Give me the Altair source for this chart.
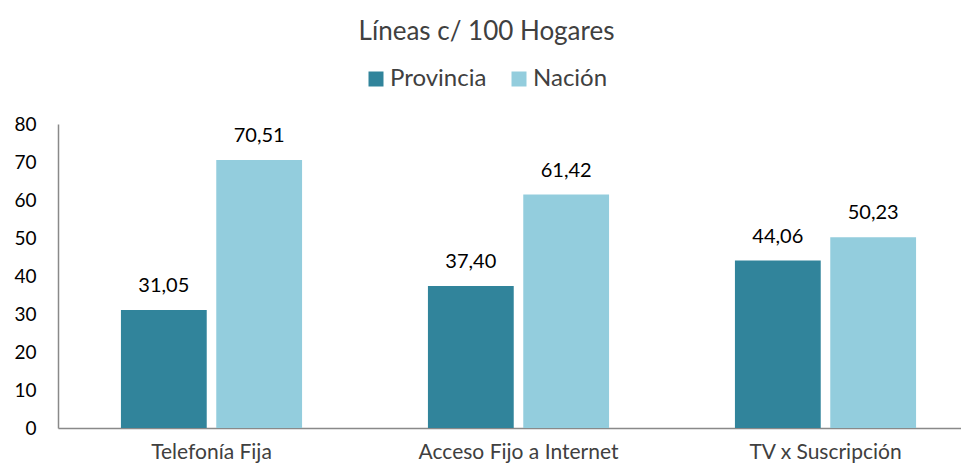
import altair as alt
import pandas as pd

categories = ["Telefonía Fija", "Acceso Fijo a Internet", "TV x Suscripción"]
series = ["Provincia", "Nación"]
provincia = [31.05, 37.40, 44.06]
nacion = [70.51, 61.42, 50.23]
colors = ["#31849B", "#93CDDD"]

rows = []
for c, p, n in zip(categories, provincia, nacion):
    rows.append({"Categoria": c, "Serie": "Provincia", "Valor": p})
    rows.append({"Categoria": c, "Serie": "Nación", "Valor": n})
df = pd.DataFrame(rows)

FONT = "Lato"

base = alt.Chart(df).transform_calculate(
    label="replace(format(datum.Valor, '.2f'), '.', ',')"
).encode(
    x=alt.X(
        "Categoria:N",
        sort=categories,
        title=None,
        scale=alt.Scale(range=[0, 921], paddingInner=0.41, paddingOuter=0.205),
        axis=alt.Axis(
            labelAngle=0, ticks=False, domainColor="#898989", domainWidth=1.5,
            labelFont=FONT, labelFontSize=21, labelColor="#404040", labelPadding=13,
            labelLimit=400, grid=False,
        ),
    ),
    xOffset=alt.XOffset("Serie:N", sort=series, scale=alt.Scale(paddingInner=0.1)),
    y=alt.Y(
        "Valor:Q",
        title=None,
        scale=alt.Scale(domain=[0, 80]),
        axis=alt.Axis(
            values=[0, 10, 20, 30, 40, 50, 60, 70, 80], ticks=False, grid=False,
            domainColor="#898989", domainWidth=1.5, labelFont=FONT, labelFontSize=19,
            labelColor="#000000", labelPadding=22,
        ),
    ),
)

bars = base.mark_bar().encode(
    color=alt.Color(
        "Serie:N",
        sort=series,
        scale=alt.Scale(domain=series, range=colors),
        legend=alt.Legend(
            title=None, orient="none", direction="horizontal", legendX=306, legendY=-57,
            symbolType="square", symbolSize=225, symbolStrokeWidth=0, labelFont=FONT,
            labelFontSize=24, labelColor="#404040", labelOffset=2, columnPadding=20,
            padding=0,
        ),
    )
)

text = base.mark_text(
    dy=-18, baseline="alphabetic", fontSize=20, font=FONT, color="#000000"
).encode(text="label:N")

chart = alt.layer(bars, text).properties(
    width=903,
    height=304,
    autosize="none",
    padding={"left": 50, "top": 116, "right": 0, "bottom": 35},
    title=alt.Title(
        "Líneas c/ 100 Hogares", font=FONT, fontSize=26, fontWeight="normal",
        color="#404040", anchor="middle", dx=-23, offset=22,
    ),
).configure_view(stroke=None)

chart.save("out.html", embed_options={"renderer": "svg", "actions": False})
